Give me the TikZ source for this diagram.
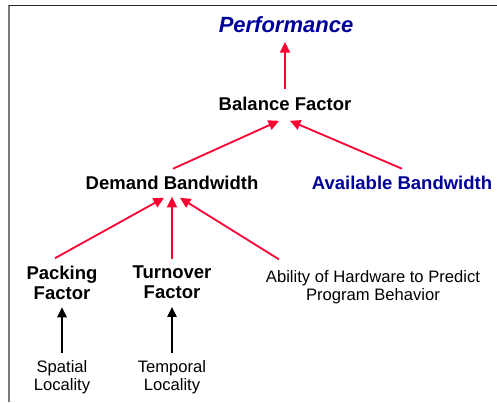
\documentclass[tikz,border=0pt]{standalone}
\usepackage{fontspec}
\setmainfont{Liberation Sans}
\usetikzlibrary{arrows.meta}
\definecolor{arrowred}{RGB}{255,0,51}
\definecolor{navyblue}{RGB}{0,0,153}
\definecolor{framegray}{RGB}{120,120,120}
\tikzset{
  lbl/.style={inner sep=0pt, outer sep=0pt, align=center},
  bigbold/.style={lbl, font=\fontsize{18.5}{20}\selectfont\bfseries},
  small/.style={lbl, font=\fontsize{16.6}{17.8}\selectfont},
  redarrow/.style={draw=arrowred, line width=1.8pt, -{Triangle[length=10.5pt,width=10pt]}, fill=arrowred},
  blackarrow/.style={draw=black, line width=1.6pt, -{Triangle[length=10pt,width=9.5pt]}},
}
\begin{document}
\begin{tikzpicture}[x=1pt,y=-1pt]
\useasboundingbox (0,0) rectangle (497,402);
\fill[white] (0,0) rectangle (497,402);
% frame
\draw[framegray, line width=2pt] (9,5) -- (9,402);
\draw[black!85, line width=1pt] (9,5.5) -- (497,5.5);
% nodes
\node[lbl, font=\fontsize{22}{24}\selectfont\bfseries\itshape, text=navyblue] (perf) at (286,25) {Performance};
\node[bigbold] (bal) at (285,103.5) {Balance Factor};
\node[bigbold] (dem) at (172,183) {Demand Bandwidth};
\node[bigbold, text=navyblue] (avail) at (402,183) {Available Bandwidth};
\node[bigbold] (pack) at (62,282.5) {Packing\\Factor};
\node[bigbold] (turn) at (172,282.5) {Turnover\\Factor};
\node[small] (abil) at (373,287) {Ability of Hardware to Predict\\Program Behavior};
\node[small] (spat) at (62,377) {Spatial\\Locality};
\node[small] (temp) at (172,377) {Temporal\\Locality};
% red arrows
\draw[redarrow] ([shift={(0,-7.5)}]bal.north) -- ([shift={(-1,9)}]perf.south);
\draw[redarrow] ([shift={(1,-7.5)}]dem.north) -- ([shift={(-6,10.5)}]bal.south);
\draw[redarrow] ([shift={(0,-7.5)}]avail.north) -- ([shift={(5,10.5)}]bal.south);
\draw[redarrow] ([shift={(-7,-7.5)}]pack.north) -- ([shift={(-8,8)}]dem.south);
\draw[redarrow] ([shift={(0,-7.5)}]turn.north) -- ([shift={(0,7)}]dem.south);
\draw[redarrow] ([shift={(-94,-11)}]abil.north) -- ([shift={(8,8)}]dem.south);
% black arrows
\draw[blackarrow] ([shift={(0,-7)}]spat.north) -- ([shift={(0,8)}]pack.south);
\draw[blackarrow] ([shift={(0,-7)}]temp.north) -- ([shift={(0,8)}]turn.south);
\end{tikzpicture}
\end{document}
